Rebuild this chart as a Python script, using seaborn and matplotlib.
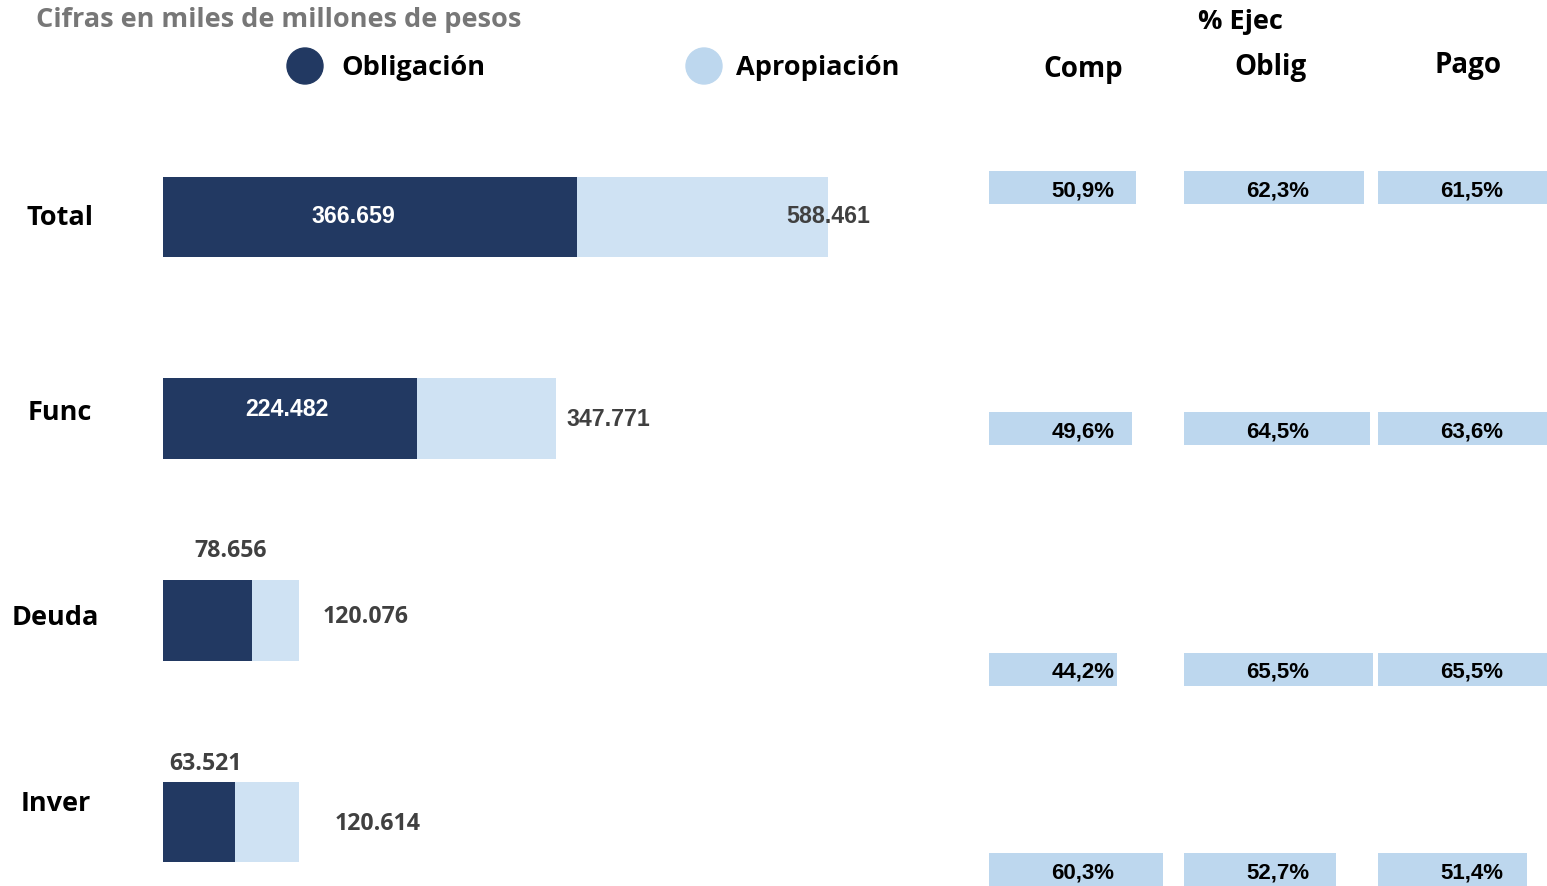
import matplotlib.pyplot as plt
import seaborn as sns
import pandas as pd
from matplotlib.patches import Circle

# Datos (miles de millones de pesos)
categorias = ['Total', 'Func', 'Deuda', 'Inver']
obligacion = [366659, 224482, 78656, 63521]
apropiacion = [588461, 347771, 120076, 120614]

# % de ejecucion
columnas_pct = ['Comp', 'Oblig', 'Pago']
pct_comp = [50.9, 49.6, 44.2, 60.3]
pct_oblig = [62.3, 64.5, 65.5, 52.7]
pct_pago = [61.5, 63.6, 65.5, 51.4]

OSCURO = '#223962'
CLARO = '#CFE2F3'
CAJA = '#BDD7EE'
GRIS = '#404040'

W, H = 1547, 886
sns.set_theme(style='white')
plt.rcParams['font.family'] = ['Open Sans', 'DejaVu Sans']
plt.rcParams['text.color'] = 'black'

fig = plt.figure(figsize=(W / 100, H / 100), dpi=100)


def px_axes(x0, y0, x1, y1):
    # caja en pixeles con origen arriba a la izquierda
    return fig.add_axes([x0 / W, 1 - y1 / H, (x1 - x0) / W, (y1 - y0) / H])


def fmt_miles(v):
    return f'{v:,}'.replace(',', '.')


def fmt_pct(v):
    return f'{v:.1f}%'.replace('.', ',')


# capa de fondo en pixeles para titulos y leyenda
ov = px_axes(0, 0, W, H)
ov.set_xlim(0, W)
ov.set_ylim(H, 0)
ov.axis('off')

ov.text(36, 20, 'Cifras en miles de millones de pesos', fontsize=19.5, fontweight='bold',
        color='#777777', va='center', ha='left')

ov.add_patch(Circle((305, 66), 18, color=OSCURO))
ov.text(341, 68, 'Obligación', fontsize=19.5, fontweight='bold', va='center')
ov.add_patch(Circle((704, 66), 18, color=CAJA))
ov.text(736, 68, 'Apropiación', fontsize=19.5, fontweight='bold', va='center')

ov.text(1240, 22, '% Ejec', fontsize=19.5, fontweight='bold', ha='center', va='center')
for nombre, (hx, hy) in zip(columnas_pct, [(1083, 69), (1270, 67), (1468, 65)]):
    ov.text(hx, hy, nombre, fontsize=20, fontweight='bold', ha='center', va='center')

# etiquetas de categoria
for cat, (cx, cy) in zip(categorias, [(60, 218), (60, 413), (55, 618), (56, 804)]):
    ov.text(cx, cy, cat, fontsize=19.5, fontweight='bold', ha='center', va='center')

# barras horizontales
df = pd.DataFrame({'categoria': categorias, 'Obligación': obligacion, 'Apropiación': apropiacion})

ax = px_axes(163, 116, 960, 886)
sns.barplot(data=df, x='Apropiación', y='categoria', color=CLARO, saturation=1,
            width=0.4, linewidth=0, ax=ax)
sns.barplot(data=df, x='Obligación', y='categoria', color=OSCURO, saturation=1,
            width=0.4, linewidth=0, ax=ax)

paso = 201.7
ax.set_xlim(0, apropiacion[0] * 797 / 665)
ax.set_ylim((886 - 217) / paso, -(217 - 116) / paso)
ax.axis('off')

# etiquetas de obligacion: dentro (blanco) o encima (gris)
off_obl = [(-17, 1), (-3, 9), (23, 69), (7, 58)]
for i, v in enumerate(obligacion):
    dentro = i < 2
    ax.annotate(fmt_miles(v), xy=(v / 2, i), xytext=off_obl[i], textcoords='offset pixels',
                ha='center', va='center', fontsize=16.7, fontweight='bold',
                color='white' if dentro else GRIS,
                family=['Liberation Sans'] if dentro else ['Open Sans'])

# etiquetas de apropiacion
off_apr = [(0, 1, 'center'), (10, -1, 'left'), (24, 3, 'left'), (35, -2, 'left')]
for i, v in enumerate(apropiacion):
    dx, dy, ha = off_apr[i]
    ax.annotate(fmt_miles(v), xy=(v, i), xytext=(dx, dy), textcoords='offset pixels',
                ha=ha, va='center', fontsize=16.7, fontweight='bold', color=GRIS,
                family=['Liberation Sans'] if i < 2 else ['Open Sans'])

# cajas de % ejecucion
px_por_pct = 2.89
filas_px = [187.5, 428.5, 669, 869.5]
for x0, valores in zip([989, 1184, 1378], [pct_comp, pct_oblig, pct_pago]):
    axp = px_axes(x0, 0, x0 + 100 * px_por_pct, H)
    axp.barh(filas_px, valores, height=33, color=CAJA, linewidth=0)
    axp.set_xlim(0, 100)
    axp.set_ylim(H, 0)
    axp.axis('off')
    for y, v in zip(filas_px, valores):
        axp.text(94 / px_por_pct, y + 3, fmt_pct(v), ha='center', va='center',
                 fontsize=16, fontweight='bold', family=['Liberation Sans'])

fig.savefig('out.png', dpi=100, facecolor='white')
